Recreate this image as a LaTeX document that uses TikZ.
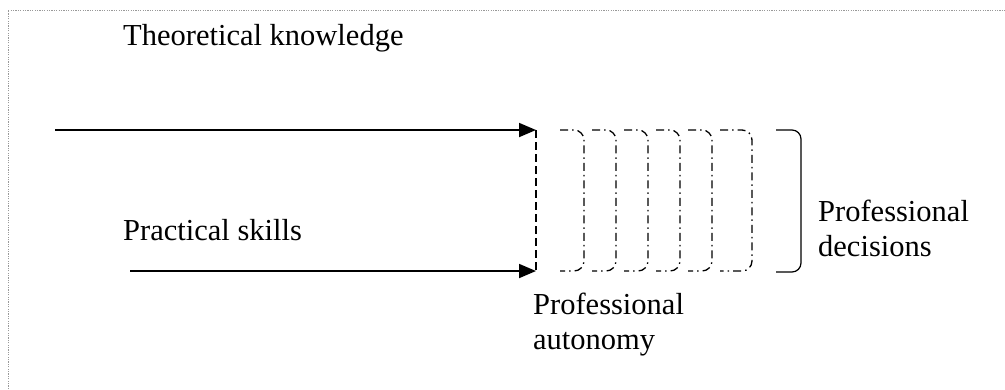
\documentclass[tikz,border=0pt]{standalone}
\usepackage{fontspec}
\setmainfont{Liberation Serif}
\usetikzlibrary{arrows.meta}
\tikzset{
  frameline/.style={draw=gray!80, line width=0.9pt, dash pattern=on 1.2pt off 1.2pt},
  flowarrow/.style={line width=1.8pt, -{Triangle[length=17pt,width=14pt]}},
  joinline/.style={line width=1.3pt, dash pattern=on 8pt off 4pt},
  layerline/.style={line width=1.3pt, dash pattern=on 8pt off 4pt on 1.5pt off 4pt, rounded corners=10pt},
  bracketline/.style={line width=1.2pt, rounded corners=9pt},
  label/.style={inner sep=0pt, font=\fontsize{30.5}{35}\selectfont, align=left}
}
\begin{document}
\begin{tikzpicture}[x=1pt,y=-1pt]
  \useasboundingbox (0,0) rectangle (1005,389);
  % outer dotted frame
  \coordinate (fbl) at (8,389);
  \coordinate (ftl) at (8,10);
  \coordinate (ftr) at (1005,10);
  \draw[frameline] (fbl) -- (ftl) -- (ftr);

  % labels
  \node[label, anchor=base west] (theory) at (123,45) {Theoretical knowledge};
  \node[label, anchor=base west] (practice) at (123,240) {Practical skills};
  \node[label, anchor=north west] (autonomy) at (533,293) {Professional\\autonomy};
  \node[label, anchor=north west] (decisions) at (818,200) {Professional\\decisions};

  % input arrows
  \coordinate (tstart) at (55,130);
  \coordinate (ttip) at (536,130);
  \coordinate (pstart) at (130,271);
  \coordinate (ptip) at (536,271);
  \draw[flowarrow] (tstart) -- (ttip);
  \draw[flowarrow] (pstart) -- (ptip);
  \draw[joinline] (ttip) -- (ptip);

  % layered decision outlines
  \foreach \xs/\xe in {560/584, 592/616, 624/648, 656/680, 688/712, 720/752}{
    \draw[layerline] (\xs,130) -- (\xe,130) -- (\xe,271) -- (\xs,271);
  }

  % closing bracket
  \coordinate (btop) at (776,130);
  \coordinate (bbot) at (776,272);
  \draw[bracketline] (btop) -- (801,130) -- (801,272) -- (bbot);
\end{tikzpicture}
\end{document}
